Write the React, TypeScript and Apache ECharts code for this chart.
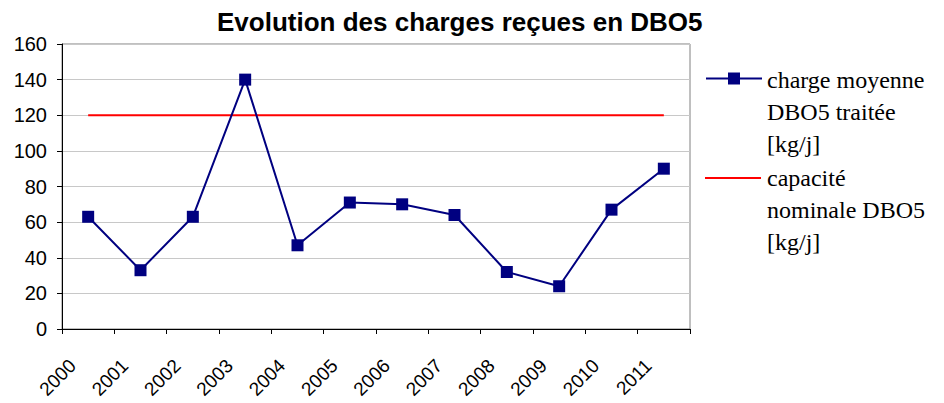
import React, { useEffect, useRef } from "react";
import * as echarts from "echarts";

const years = ["2000", "2001", "2002", "2003", "2004", "2005", "2006", "2007", "2008", "2009", "2010", "2011"];
const chargeMoyenne = [63, 33, 63, 140, 47, 71, 70, 64, 32, 24, 67, 90];
const capaciteNominale = [120, 120, 120, 120, 120, 120, 120, 120, 120, 120, 120, 120];
const yTicks = { min: 0, max: 160, interval: 20 };
const seriesNames = ["charge moyenne DBO5 traitée [kg/j]", "capacité nominale DBO5 [kg/j]"];
const legendLines = [
  ["charge moyenne", "DBO5 traitée", "[kg/j]"],
  ["capacité", "nominale DBO5", "[kg/j]"],
];
const titleText = "Evolution des charges reçues en DBO5";

const SANS = "Liberation Sans";
const LEGEND_FONT = "24px 'Liberation Serif'";
const legendIconText = { fontSize: 2, lineHeight: 2, color: "#fff" };

function legendGraphics() {
  const out: any[] = [];
  const firstLineTop = [68, 166];
  legendLines.forEach((lines, i) => {
    lines.forEach((line, j) => {
      out.push({
        type: "text",
        left: 767,
        top: firstLineTop[i] + j * 32,
        style: { text: line, font: LEGEND_FONT, fill: "#000" },
      });
    });
  });
  return out;
}

export default function App() {
  const ref = useRef<HTMLDivElement>(null);
  useEffect(() => {
    if (!ref.current) return;
    const chart = echarts.init(ref.current, null, { renderer: "svg" });
    chart.setOption({
      animation: false,
      backgroundColor: "#ffffff",
      title: {
        text: titleText,
        left: 212,
        top: 4,
        textStyle: { fontFamily: SANS, fontWeight: "bold", fontSize: 26, color: "#000" },
      },
      graphic: legendGraphics(),
      legend: [
        {
          orient: "vertical",
          left: 705,
          top: 72.5,
          padding: 0,
          itemGap: 0,
          itemWidth: 56,
          itemHeight: 15,
          data: [seriesNames[0]],
          formatter: () => " ",
          textStyle: legendIconText,
        },
        {
          orient: "vertical",
          left: 705,
          top: 177,
          padding: 0,
          itemGap: 0,
          itemWidth: 56,
          itemHeight: 2,
          data: [{ name: seriesNames[1], icon: "rect", itemStyle: { color: "#ff0000" } }],
          formatter: () => " ",
          textStyle: legendIconText,
        },
      ],
      grid: {
        left: 62,
        right: 254,
        top: 44,
        bottom: 74,
        show: true,
        borderColor: "#808080",
        borderWidth: 1,
        backgroundColor: "transparent",
      },
      xAxis: {
        type: "category",
        data: years,
        boundaryGap: true,
        axisLine: { show: true, lineStyle: { color: "#000", width: 1 } },
        axisTick: { show: true, length: 5, lineStyle: { color: "#000" } },
        axisLabel: {
          rotate: 45,
          margin: 18,
          padding: [0, 22, 0, 0],
          fontFamily: SANS,
          fontSize: 19,
          color: "#000",
          interval: 0,
        },
        splitLine: { show: false },
      },
      yAxis: {
        type: "value",
        min: yTicks.min,
        max: yTicks.max,
        interval: yTicks.interval,
        axisLine: { show: true, lineStyle: { color: "#000", width: 1 } },
        axisTick: { show: true, length: 5, lineStyle: { color: "#000" } },
        axisLabel: { margin: 15, fontFamily: SANS, fontSize: 20, color: "#000" },
        splitLine: { show: true, lineStyle: { color: "#c8c8c8", width: 1 } },
      },
      series: [
        {
          name: seriesNames[0],
          type: "line",
          data: chargeMoyenne,
          symbol: "rect",
          symbolSize: 12,
          color: "#000080",
          itemStyle: { color: "#000080" },
          lineStyle: { color: "#000080", width: 2 },
          z: 3,
        },
        {
          name: seriesNames[1],
          type: "line",
          data: capaciteNominale,
          symbol: "none",
          showSymbol: false,
          color: "#ff0000",
          itemStyle: { color: "#ff0000" },
          lineStyle: { color: "#ff0000", width: 2 },
          z: 2,
        },
      ],
    });
    return () => chart.dispose();
  }, []);
  return <div ref={ref} style={{ width: 944, height: 403, position: "absolute", left: 0, top: 0 }} />;
}
